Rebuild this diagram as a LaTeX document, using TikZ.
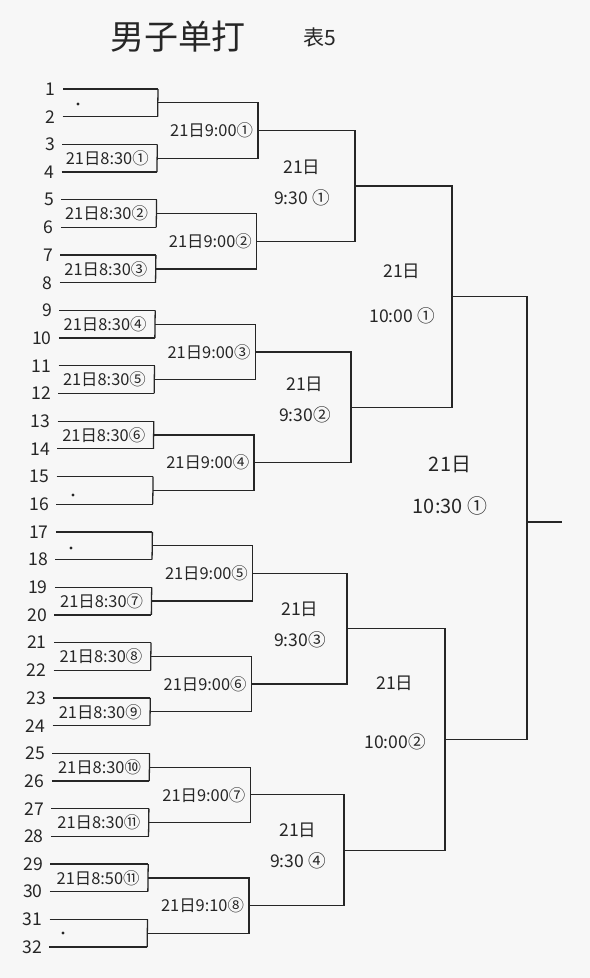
\documentclass[tikz,border=0pt]{standalone}
\usepackage{fontspec}
\newfontfamily\cjk{Noto Sans CJK SC}
\usetikzlibrary{positioning,calc}
\tikzset{
  bline/.style={draw=black!85, line width=1.1pt},
  pnum/.style={font=\cjk\fontsize{15}{17}\selectfont, inner sep=1pt, text=black!85},
  mlab/.style={font=\cjk\fontsize{14}{16}\selectfont, inner sep=1pt, anchor=east, text=black!85},
  rlab/.style={font=\cjk\fontsize{15}{#1}\selectfont, inner sep=1pt, align=center, text=black!85},
}

\begin{document}
\begin{tikzpicture}[x=0.03cm, y=-0.03cm]
\fill[white!97!black] (0,0) rectangle (590,978);
\useasboundingbox (0,0) rectangle (590,978);

% --- Title ---
\node[font=\cjk\fontsize{29}{30}\selectfont, text=black!85] (title) at (178,37) {男子单打};
\node[font=\cjk\fontsize{18}{20}\selectfont, text=black!85] (sheet) at (320,37) {表5};

% --- Players ---
\foreach \i in {1,...,32} {
  \pgfmathsetmacro\yy{89+(\i-1)*27.68}
  \pgfmathsetmacro\xl{63-(\i-1)*0.45}
  \pgfmathsetmacro\xr{158-(\i-1)*0.35}
  \coordinate (p\i) at (\xl,\yy);
  \coordinate (q\i) at (\xr,\yy);
  \node[pnum, left=5pt of p\i] (n\i) {\i};
  \draw[bline] (p\i) -- (q\i);
}

% --- Round 1 ---
\foreach \k in {1,...,16} {
  \pgfmathtruncatemacro\a{2*\k-1}
  \pgfmathtruncatemacro\b{2*\k}
  \coordinate (r1-\k) at ($(q\a)!0.5!(q\b)$);
  \draw[bline] (q\a) -- (q\b);
}

% --- Round 2 ---
\foreach \m in {1,...,8} {
  \pgfmathtruncatemacro\a{2*\m-1}
  \pgfmathtruncatemacro\b{2*\m}
  \pgfmathsetmacro\yy{89+(4*\m-2.5)*27.68}
  \pgfmathsetmacro\xx{258-(\m-1)*1.3}
  \coordinate (r2-\m) at (\xx,\yy);
  \draw[bline] (r1-\a) -| (r2-\m) |- (r1-\b);
}

% --- Round 3 ---
\foreach \n/\xx in {1/355,2/351,3/347,4/344} {
  \pgfmathtruncatemacro\a{2*\n-1}
  \pgfmathtruncatemacro\b{2*\n}
  \pgfmathsetmacro\yy{89+(8*\n-4.5)*27.68}
  \coordinate (r3-\n) at (\xx,\yy);
  \draw[bline] (r2-\a) -| (r3-\n) |- (r2-\b);
}

% --- Round 4 ---
\foreach \j/\xx in {1/452,2/445} {
  \pgfmathtruncatemacro\a{2*\j-1}
  \pgfmathtruncatemacro\b{2*\j}
  \pgfmathsetmacro\yy{89+(16*\j-8.5)*27.68}
  \coordinate (r4-\j) at (\xx,\yy);
  \draw[bline] (r3-\a) -| (r4-\j) |- (r3-\b);
}

% --- Final ---
\coordinate (fin) at (527,522);
\coordinate (champ) at (562,522);
\draw[bline] (r4-1) -| (fin) |- (r4-2);
\draw[bline] (fin) -- (champ);

% byes
\fill[black!85] (78,104) circle (1.6);
\fill[black!85] (73,495) circle (1.6);
\fill[black!85] (71,548) circle (1.6);
\fill[black!85] (63,933) circle (1.6);

% --- Match labels ---
\foreach \k/\t in {2/{21日8:30①},3/{21日8:30②},4/{21日8:30③},5/{21日8:30④},
                   6/{21日8:30⑤},7/{21日8:30⑥},10/{21日8:30⑦},11/{21日8:30⑧},
                   12/{21日8:30⑨},13/{21日8:30⑩},14/{21日8:30⑪},15/{21日8:50⑪}}
  \node[mlab] (g1-\k) at ([xshift=-6pt]r1-\k) {\t};

\foreach \m/\t in {1/{21日9:00①},2/{21日9:00②},3/{21日9:00③},4/{21日9:00④},
                   5/{21日9:00⑤},6/{21日9:00⑥},7/{21日9:00⑦},8/{21日9:10⑧}}
  \node[mlab] (g2-\m) at ([xshift=-3pt]r2-\m) {\t};

\node[rlab=26pt] (g3-1) at (302,183) {21日\\9:30 ①};
\node[rlab=26pt] (g3-2) at (305,400) {21日\\9:30②};
\node[rlab=26pt] (g3-3) at (300,625) {21日\\9:30③};
\node[rlab=26pt] (g3-4) at (298,846) {21日\\9:30 ④};

\node[rlab=39pt] (g4-1) at (402,294) {21日\\10:00 ①};
\node[rlab=51pt] (g4-2) at (395,713) {21日\\10:00②};

\node[rlab=36pt, font=\cjk\fontsize{17}{36}\selectfont] (g5) at (450,486) {21日\\10:30 ①};

\end{tikzpicture}
\end{document}
